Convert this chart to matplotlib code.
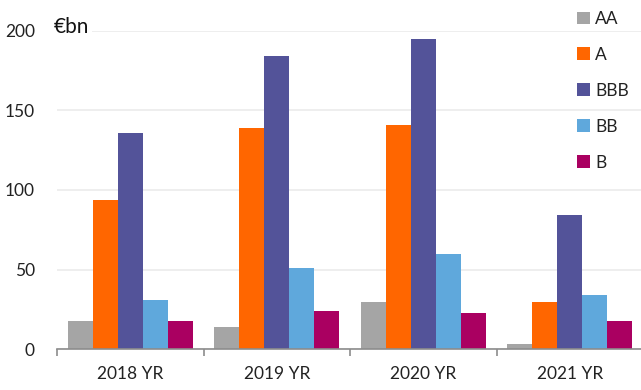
import matplotlib.pyplot as plt
import numpy as np

plt.rcParams['font.family'] = ['Lato', 'DejaVu Sans']

# Data (EUR bn)
years = ['2018 YR', '2019 YR', '2020 YR', '2021 YR']
ratings = ['AA', 'A', 'BBB', 'BB', 'B']
aa = [18, 14, 30, 3.5]
a = [94, 139, 141, 30]
bbb = [136, 184, 195, 84]
bb = [31, 51, 60, 34]
b = [18, 24, 23, 18]
colors = ['#A5A5A5', '#FF6600', '#535399', '#5FA8DC', '#AA0061']

fig = plt.figure(figsize=(6.41, 3.90), dpi=100)
ax = fig.add_axes([57 / 641, 40.7 / 390, 586 / 641, 318.6 / 390])

x = np.arange(len(years)) + 0.5
width = 0.17
series = [aa, a, bbb, bb, b]
for k, (vals, col, lab) in enumerate(zip(series, colors, ratings)):
    ax.bar(x + (k - 2) * width, vals, width, color=col, label=lab, zorder=2)

ax.set_xlim(0, 4)
ax.set_ylim(0, 200)
ax.set_yticks([0, 50, 100, 150, 200])
ax.yaxis.grid(True, color='#EBEBEB', linewidth=1.2, zorder=0)
ax.set_axisbelow(True)

ax.set_xticks([0, 1, 2, 3, 4])
ax.set_xticklabels([])
ax.set_xticks(x, minor=True)
ax.set_xticklabels(years, minor=True)
ax.tick_params(axis='x', which='major', length=5, color='#8C8C8C', width=1.2)
ax.tick_params(axis='x', which='minor', length=0, pad=12, labelsize=12.5, labelcolor='#222222')
ax.tick_params(axis='y', length=0, pad=16, labelsize=12.5, labelcolor='#222222')

for s in ['top', 'right', 'left']:
    ax.spines[s].set_visible(False)
ax.spines['bottom'].set_color('#8C8C8C')
ax.spines['bottom'].set_linewidth(1.2)

fig.text(54 / 641, 1 - 27 / 390, '€bn', fontsize=15, va='center', ha='left',
         color='#111111', bbox=dict(facecolor='white', edgecolor='none', pad=2))

leg = ax.legend(loc='upper left', bbox_to_anchor=(570 / 641, 1 - 4 / 390),
                bbox_transform=fig.transFigure, frameon=False, fontsize=12.5,
                handlelength=0.75, handleheight=0.75, handletextpad=0.3,
                labelspacing=1.15, borderaxespad=0)
for t in leg.get_texts():
    t.set_color('#222222')

fig.savefig('out.png', dpi=100)
